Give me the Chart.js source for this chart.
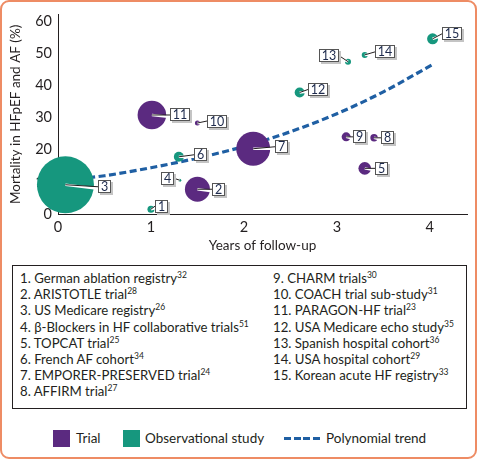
<!DOCTYPE html>
<html>
<head>
<meta charset="utf-8">
<script src="https://cdn.jsdelivr.net/npm/chart.js@4.4.0/dist/chart.umd.min.js"></script>
<style>
  html, body { margin: 0; padding: 0; background: #fff; }
  body { width: 477px; height: 459px; overflow: hidden; position: relative; font-family: Lato, sans-serif; color: #231f20; }
  .frame { position: absolute; left: 0; top: 0; width: 473px; height: 455px; border: 2px solid #ee8c64; border-radius: 9px; }
  .plot { position: absolute; left: 0; top: 0; }
  .refs { position: absolute; left: 12px; top: 265px; width: 453px; height: 142px; border: 1px solid #231f20; font-size: 13.2px; }
  .col { position: absolute; top: 4px; line-height: 16.2px; white-space: nowrap; }
  .col sup { font-size: 8.5px; line-height: 0; vertical-align: 5px; }
  .legend { position: absolute; top: 430px; left: 0; height: 18px; font-size: 13.5px; }
  .key { position: absolute; top: 0; height: 18px; line-height: 17px; white-space: nowrap; }
  .swatch { position: absolute; top: 0; width: 17px; height: 17px; }
  .dash { position: absolute; top: 7px; width: 36px; height: 3px;
          background: repeating-linear-gradient(90deg, #1f5fa3 0 7px, transparent 7px 9.5px); }
</style>
</head>
<body>
<div class="frame"></div>
<canvas id="chart" class="plot" width="477" height="258"></canvas>
<div class="refs">
  <div class="col" id="col1" style="left:7px"></div>
  <div class="col" id="col2" style="left:260px"></div>
</div>
<div class="legend">
  <div class="swatch" style="left:53px;background:#5b2a80"></div>
  <div class="key" style="left:76px">Trial</div>
  <div class="swatch" style="left:123px;background:#16977e"></div>
  <div class="key" style="left:145px">Observational study</div>
  <div class="dash" style="left:284px"></div>
  <div class="key" style="left:326px">Polynomial trend</div>
</div>
<script>
// studies, numbered 1..15 as in the reference list
const studyNames = [
  'German ablation registry', 'ARISTOTLE trial', 'US Medicare registry',
  'β-Blockers in HF collaborative trials', 'TOPCAT trial', 'French AF cohort',
  'EMPORER-PRESERVED trial', 'AFFIRM trial', 'CHARM trials', 'COACH trial sub-study',
  'PARAGON-HF trial', 'USA Medicare echo study', 'Spanish hospital cohort',
  'USA hospital cohort', 'Korean acute HF registry'
];
const refNums = [32, 28, 26, 51, 25, 34, 24, 27, 30, 31, 23, 35, 36, 29, 33];
const studyType = ['obs', 'trial', 'obs', 'obs', 'trial', 'obs', 'trial', 'trial',
                   'trial', 'trial', 'trial', 'obs', 'obs', 'obs', 'obs'];
const followUp  = [1.0, 1.5, 0.08, 1.31, 3.3, 1.3, 2.1, 3.4, 3.1, 1.5, 1.01, 2.6, 3.12, 3.3, 4.03];
const mortality = [1.5, 7.7, 9.1, 10.5, 14.2, 17.8, 20.3, 23.7, 24.0, 28.3, 30.8, 37.8, 47.4, 49.5, 54.5];
const bubbleSize = [3.5, 12.5, 28.5, 1.5, 6.3, 5, 17, 3.7, 4.5, 2.5, 14.3, 5, 3, 3, 5.5];

// polynomial trend line
const trendYears     = [0.1, 0.5, 1.0, 1.5, 2.0, 2.5, 3.0, 3.5, 4.03];
const trendMortality = [10.6, 11.9, 14.4, 17.4, 21.0, 25.6, 31.2, 38.0, 46.5];

const xTicks = [0, 1, 2, 3, 4];
const yTicks = [0, 10, 20, 30, 40, 50, 60];

// callout box offsets from bubble centre (px)
const labelOffsets = [[11, -3], [21, 0], [39, 2], [-12, -2], [17, 0], [22, -2], [28, -2], [13, 0],
                      [13, 0], [20, -2], [28, 0], [18, -3], [-19, -6], [20, -3], [19, -5]];

const TRIAL = '#5b2a80';
const OBS = '#16977e';
const INK = '#231f20';

// reference list
studyNames.forEach((name, i) => {
  const row = document.createElement('div');
  row.innerHTML = `${i + 1}. ${name}<sup>${refNums[i]}</sup>`;
  document.getElementById(i < 8 ? 'col1' : 'col2').appendChild(row);
});

function points(type) {
  return studyNames.map((_, i) => i)
    .filter(i => studyType[i] === type)
    .map(i => ({ x: followUp[i], y: mortality[i], r: bubbleSize[i], id: i + 1 }));
}

const callouts = {
  id: 'callouts',
  afterDatasetsDraw(chart) {
    const ctx = chart.ctx;
    ctx.save();
    ctx.font = '12.5px Lato';
    ctx.textAlign = 'center';
    ctx.textBaseline = 'middle';
    chart.data.datasets.forEach((ds, di) => {
      if (ds.type === 'line') return;
      chart.getDatasetMeta(di).data.forEach((el, i) => {
        const id = ds.data[i].id;
        const [dx, dy] = labelOffsets[id - 1];
        const text = String(id);
        const w = Math.round(ctx.measureText(text).width + 6);
        const h = 13;
        const cx = el.x + dx, cy = el.y + dy;
        const bx = Math.round(cx - w / 2), by = Math.round(cy - h / 2);
        const ex = dx > 0 ? bx : bx + w;
        // leader
        ctx.beginPath();
        ctx.moveTo(el.x, el.y);
        ctx.lineTo(ex, cy + 2);
        ctx.strokeStyle = '#fff';
        ctx.lineWidth = 2.5;
        ctx.stroke();
        ctx.beginPath();
        ctx.moveTo(el.x, el.y);
        ctx.lineTo(ex, cy);
        ctx.strokeStyle = INK;
        ctx.lineWidth = 1;
        ctx.stroke();
        // box with shadow
        ctx.fillStyle = '#c4c4c4';
        ctx.fillRect(bx + 2, by + 2, w, h);
        ctx.fillStyle = '#fff';
        ctx.fillRect(bx, by, w, h);
        ctx.strokeStyle = '#555';
        ctx.strokeRect(bx + 0.5, by + 0.5, w - 1, h - 1);
        ctx.fillStyle = '#1d2a4d';
        ctx.fillText(text, bx + w / 2, by + h / 2 + 0.5);
      });
    });
    ctx.restore();
  }
};

new Chart(document.getElementById('chart'), {
  type: 'bubble',
  data: {
    datasets: [
      { label: 'Trial', data: points('trial'), backgroundColor: TRIAL, borderWidth: 0, clip: false },
      { label: 'Observational study', data: points('obs'), backgroundColor: OBS, borderWidth: 0, clip: false },
      {
        type: 'line', label: 'Polynomial trend',
        data: trendYears.map((x, i) => ({ x, y: trendMortality[i] })),
        borderColor: '#1f5fa3', borderWidth: 3.2, borderDash: [7, 3.5],
        pointRadius: 0, fill: false, tension: 0.4, cubicInterpolationMode: 'monotone'
      }
    ]
  },
  options: {
    responsive: false,
    devicePixelRatio: 1,
    animation: false,
    events: [],
    layout: { autoPadding: false, padding: { top: 12, right: 10, left: 0, bottom: 0 } },
    plugins: { legend: { display: false }, tooltip: { enabled: false } },
    scales: {
      x: {
        type: 'linear', min: 0, max: 4.4,
        grid: { display: false, drawTicks: false },
        border: { color: INK, width: 1 },
        afterBuildTicks: s => { s.ticks = xTicks.map(v => ({ value: v })); },
        afterFit: s => { s.height = 44; },
        ticks: { color: INK, font: { family: 'Lato', size: 14.5 }, padding: 5 },
        title: { display: true, text: 'Years of follow-up', color: INK,
                 font: { family: 'Lato', size: 13.5 }, padding: { top: 4, bottom: 4 } }
      },
      y: {
        min: 0, max: 62,
        grid: { display: false, drawTicks: false },
        border: { color: INK, width: 1 },
        afterBuildTicks: s => { s.ticks = yTicks.map(v => ({ value: v })); },
        afterFit: s => { s.width = 58; },
        ticks: { color: INK, font: { family: 'Lato', size: 14.5 }, padding: 6 },
        title: { display: true, text: 'Mortality in HFpEF and AF (%)', color: INK,
                 font: { family: 'Lato', size: 13.5 }, padding: { top: 8, bottom: 0 } }
      }
    }
  },
  plugins: [callouts]
});
</script>
</body>
</html>
